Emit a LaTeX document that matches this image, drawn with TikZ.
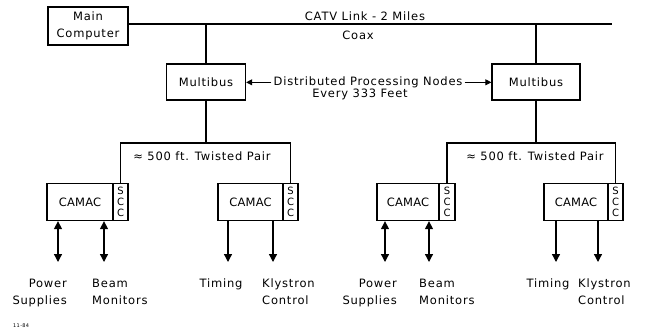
\documentclass[tikz,border=0pt]{standalone}
\usepackage{fontspec}
\setmainfont{DejaVu Sans}[LetterSpace=7]
\newfontfamily\camacfont{DejaVu Sans}[LetterSpace=2]
\newfontfamily\sccfont{DejaVu Sans}
\usetikzlibrary{arrows.meta}
\tikzset{
  conn/.style={line width=1.3pt},
  box/.style={draw, line width=1.3pt, inner sep=0pt, align=center,
    font=\fontsize{11.5}{17}\selectfont},
  camacbox/.style={draw, line width=1.3pt, inner sep=0pt, minimum height=37pt,
    font=\camacfont\fontsize{11.5}{12}\selectfont},
  sccbox/.style={draw, line width=1.3pt, inner sep=0pt, minimum height=37pt,
    minimum width=15pt, align=center, font=\sccfont\fontsize{10}{11}\selectfont},
  lbl/.style={inner sep=0pt, font=\fontsize{11.5}{17}\selectfont},
  endtip/.style={-{Triangle[width=8pt,length=8pt]}},
  bothtip/.style={{Triangle[width=8pt,length=8pt]}-{Triangle[width=8pt,length=8pt]}},
  smalltip/.style={-{Triangle[width=6pt,length=6pt]}},
}
\begin{document}
\begin{tikzpicture}[x=1pt,y=-1pt]
\useasboundingbox (0,0) rectangle (652,335);

% main computer and CATV link
\node[box, minimum width=80pt, minimum height=38pt] (main) at (88,26) {Main\\Computer};
\coordinate (catvR) at (612,24);
\draw[conn] (main.east |- catvR) -- (catvR);
\node[lbl, anchor=base] (catv) at (365,20.5) {CATV Link - 2 Miles};
\node[lbl, anchor=base] (coax) at (358,39) {Coax};

% multibus nodes
\node[box, minimum width=79pt, minimum height=36pt] (mb1) at (206,82) {Multibus};
\node[box, minimum width=88pt, minimum height=36pt] (mb2) at (536,82) {Multibus};
\draw[conn] (mb1.north) -- (mb1.north |- catvR);
\draw[conn] (mb2.north) -- (mb2.north |- catvR);

\node[lbl, anchor=base] (dpn) at (368,85.5) {Distributed Processing Nodes};
\node[lbl, anchor=base] (every) at (360,97.5) {Every 333 Feet};
\draw[line width=0.8pt, smalltip, shorten <=2pt] (dpn.west) -- (dpn.west -| mb1.east);
\draw[line width=0.8pt, smalltip, shorten <=2pt] (dpn.east) -- (dpn.east -| mb2.west);

% CAMAC crates
\node[camacbox, minimum width=66pt] (camac1) at (80,202) {CAMAC};
\node[sccbox] (scc1) at (120.5,202) {S\\C\\C};
\node[camacbox, minimum width=65pt] (camac2) at (250.5,202) {CAMAC};
\node[sccbox] (scc2) at (290.5,202) {S\\C\\C};
\node[camacbox, minimum width=62pt] (camac3) at (408,202) {CAMAC};
\node[sccbox, minimum width=16pt] (scc3) at (447,202) {S\\C\\C};
\node[camacbox, minimum width=64pt] (camac4) at (576,202) {CAMAC};
\node[sccbox] (scc4) at (615.5,202) {S\\C\\C};

% twisted pair buses
\coordinate (bus1) at (206,143);
\coordinate (bus2) at (536,143);
\draw[conn] (mb1.south) -- (bus1);
\draw[conn] (mb2.south) -- (bus2);
\draw[conn] (scc1.north) -- (scc1.north |- bus1) -- (scc2.north |- bus1) -- (scc2.north);
\draw[conn] (scc3.north) -- (scc3.north |- bus2) -- (scc4.north |- bus2) -- (scc4.north);
\node[lbl, anchor=base] (tp1) at (202,160) {≈ 500 ft. Twisted Pair};
\node[lbl, anchor=base] (tp2) at (535,160) {≈ 500 ft. Twisted Pair};

% device arrows
\coordinate (a1) at (58,262);
\coordinate (a2) at (104,262);
\coordinate (a3) at (228,262);
\coordinate (a4) at (273,262);
\coordinate (a5) at (385,262);
\coordinate (a6) at (429,262);
\coordinate (a7) at (556,262);
\coordinate (a8) at (598,262);
\draw[conn, bothtip] (camac1.south -| a1) -- (a1);
\draw[conn, bothtip] (camac1.south -| a2) -- (a2);
\draw[conn, endtip] (camac2.south -| a3) -- (a3);
\draw[conn, endtip] (camac2.south -| a4) -- (a4);
\draw[conn, bothtip] (camac3.south -| a5) -- (a5);
\draw[conn, bothtip] (camac3.south -| a6) -- (a6);
\draw[conn, endtip] (camac4.south -| a7) -- (a7);
\draw[conn, endtip] (camac4.south -| a8) -- (a8);

% device labels
\node[lbl, align=right, anchor=north east] (ps1) at (67,279) {Power\\Supplies};
\node[lbl, align=left, anchor=north west] (bm1) at (92,279) {Beam\\Monitors};
\node[lbl, anchor=north] (tm1) at (221,279) {Timing};
\node[lbl, align=left, anchor=north west] (ks1) at (262,279) {Klystron\\Control};
\node[lbl, align=right, anchor=north east] (ps2) at (397,279) {Power\\Supplies};
\node[lbl, align=left, anchor=north west] (bm2) at (419,279) {Beam\\Monitors};
\node[lbl, anchor=north] (tm2) at (548,279) {Timing};
\node[lbl, align=left, anchor=north west] (ks2) at (578,279) {Klystron\\Control};

\node[inner sep=0pt, anchor=base west, font=\fontsize{5}{6}\selectfont] (fig) at (13,327) {11-84};
\end{tikzpicture}
\end{document}
